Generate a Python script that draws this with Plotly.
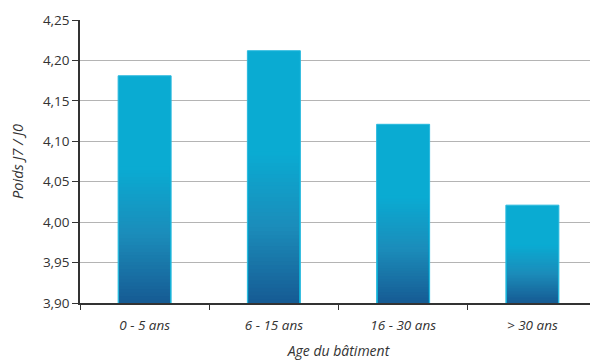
import plotly.graph_objects as go

categories = ["0 - 5 ans", "6 - 15 ans", "16 - 30 ans", "> 30 ans"]
values = [4.181, 4.212, 4.121, 4.021]
y_tick_vals = [3.90, 3.95, 4.00, 4.05, 4.10, 4.15, 4.20, 4.25]

base = 3.90
top_color = (10, 171, 210)
mid_color = (27, 140, 186)
bot_color = (22, 92, 148)
grad_frac = 0.60
n_steps = 40
bar_w = 0.41
inset = 0.012


def lerp(a, b, t):
    return tuple(int(round(a[i] + (b[i] - a[i]) * t)) for i in range(3))


def color_at(t):
    if t < 0.5:
        c = lerp(top_color, mid_color, t / 0.5)
    else:
        c = lerp(mid_color, bot_color, (t - 0.5) / 0.5)
    return "rgb(%d,%d,%d)" % c


fig = go.Figure()
fig.add_trace(go.Bar(
    x=categories, y=values, width=bar_w,
    marker=dict(color="rgb(10,171,210)", line=dict(color="rgb(40,185,222)", width=1)),
    hoverinfo="skip", showlegend=False,
))
for k in range(n_steps):
    f = grad_frac * (1 - k / n_steps)
    ys = [base + (v - base) * f for v in values]
    fig.add_trace(go.Bar(
        x=categories, y=ys, width=bar_w - 2 * inset,
        marker=dict(color=color_at(k / (n_steps - 1)), line=dict(width=0)),
        hoverinfo="skip", showlegend=False,
    ))

fig.update_layout(
    width=590, height=352,
    margin=dict(l=72, r=1, t=12, b=57),
    paper_bgcolor="white", plot_bgcolor="white",
    barmode="overlay",
    separators=",.",
    font=dict(family="Open Sans", size=13, color="#333333"),
)
fig.update_yaxes(
    range=[3.90, 4.25], tickvals=y_tick_vals, tickformat=".2f",
    tickfont=dict(size=13.5),
    showgrid=True, gridcolor="#b4b4b4", gridwidth=1,
    showline=True, linecolor="#333333", linewidth=1.5,
    ticks="outside", ticklen=6, tickcolor="#333333",
    zeroline=False, automargin=False,
    title=dict(text="Poids J7 / J0", font=dict(size=14.5, style="italic", color="#333333"), standoff=16),
)
fig.update_xaxes(
    showline=True, linecolor="#333333", linewidth=1.5,
    ticks="outside", ticklen=5, tickcolor="#333333", tickson="boundaries",
    tickfont=dict(style="italic", size=13.5),
    ticklabelstandoff=9, automargin=False,
    title=dict(text="Age du bâtiment", font=dict(size=14, style="italic", color="#333333"), standoff=16),
)

fig.write_html("out.html")
